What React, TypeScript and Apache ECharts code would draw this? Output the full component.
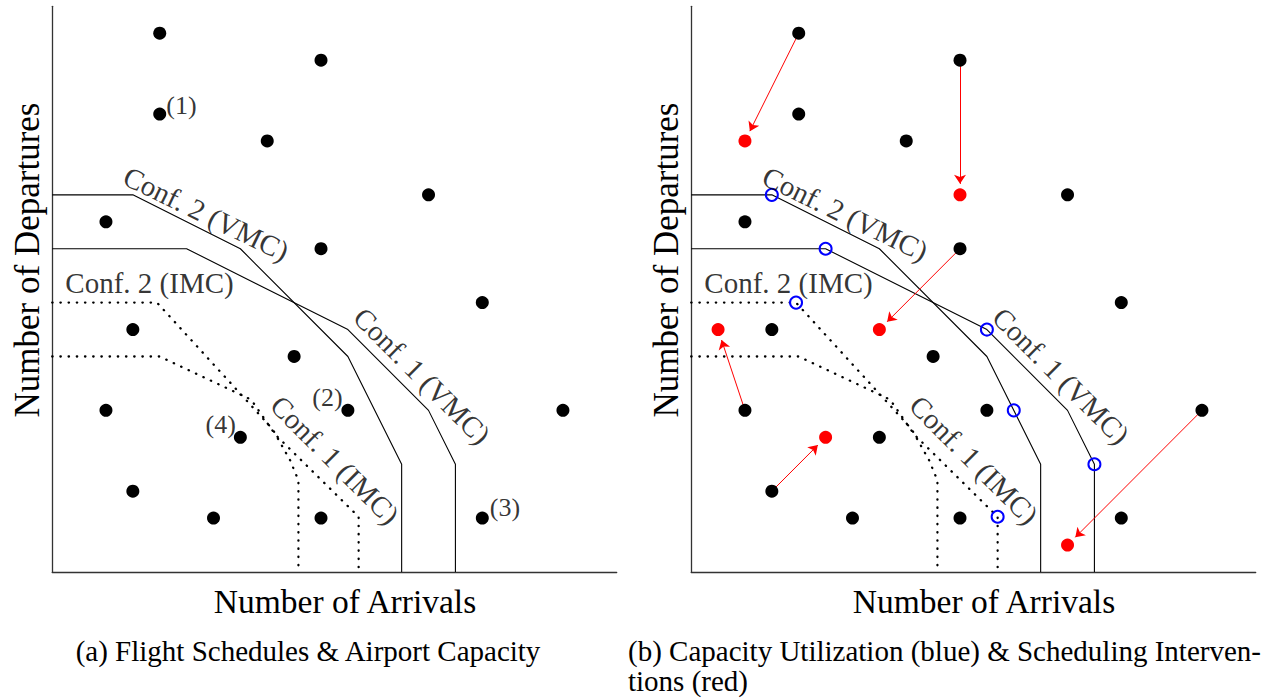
import React, { useEffect, useRef } from "react";
import * as echarts from "echarts";

// Flight schedule points: [arrivals, departures]
const flights: number[][] = [
  [4, 20], [10, 19], [4, 17], [8, 16], [14, 14], [2, 13], [10, 12], [16, 10], [3, 9],
  [9, 8], [2, 6], [11, 6], [19, 6], [7, 5], [3, 3], [6, 2], [10, 2], [16, 2],
];

// Capacity envelopes
const conf2VMC: number[][] = [[0, 14], [3, 14], [7, 12], [11, 8], [13, 4], [13, 0]];
const conf1VMC: number[][] = [[0, 12], [5, 12], [11, 9], [14, 6], [15, 4], [15, 0]];
const conf2IMC: number[][] = [[0, 10], [3.9, 10], [7.2, 6.4], [8.2, 5.3], [8.85, 4.15], [9.16, 3.4], [9.16, 0]];
const conf1IMC: number[][] = [[0, 8], [4, 8], [7.4, 6.4], [8.3, 5.1], [11.4, 2.05], [11.4, 0]];

// Scheduling interventions: original slot -> moved slot
const moveFrom: number[][] = [[4, 20], [10, 19], [10, 12], [2, 6], [3, 3], [19, 6]];
const moveTo: number[][] = [[2, 16], [10, 14], [7, 9], [1, 9], [5, 5], [14, 1]];

// Capacity utilization points on the envelopes
const utilized: number[][] = [[3, 14], [5, 12], [3.9, 10], [11, 9], [12, 6], [15, 4], [11.4, 2.05]];

// Envelope names and where they sit
const curveNames = ["Conf. 2 (VMC)", "Conf. 1 (VMC)", "Conf. 2 (IMC)", "Conf. 1 (IMC)"];
const curveNameAnchors: number[][] = [[5.73, 13.3], [13.76, 7.28], [3.62, 10.73], [10.52, 4.16]];
const curveNameAngles = [-26, -45, 0, -45];

// Numbered schedule tags (left panel)
const tagTexts = ["(1)", "(2)", "(3)", "(4)"];
const tagAnchors: number[][] = [[4.81, 17.33], [10.24, 6.48], [16.84, 2.38], [6.27, 5.46]];

const xTitle = "Number of Arrivals";
const yTitle = "Number of Departures";
const captionA = "(a) Flight Schedules & Airport Capacity";
const captionB1 = "(b) Capacity Utilization (blue) & Scheduling Interven-";
const captionB2 = "tions (red)";

const FONT = "Liberation Serif";
const PX_PER_UNIT = 26.9;
const DOT = 13;
const ARROW = 9;

function App() {
  const ref = useRef<HTMLDivElement>(null);

  useEffect(() => {
    if (!ref.current) return;
    const chart = echarts.init(ref.current, undefined, { renderer: "svg" });

    const grids = [
      { left: 52.2, top: 6.3, width: 564.5, height: 565.7 },
      { left: 691.2, top: 6.3, width: 564.5, height: 565.7 },
    ];

    const axisBase = {
      type: "value" as const,
      min: 0,
      max: 21,
      axisLine: { show: true, onZero: false, lineStyle: { color: "#333", width: 1.3 } },
      axisTick: { show: false },
      axisLabel: { show: false },
      splitLine: { show: false },
    };

    const solid = { color: "#000", width: 1.1 };
    const dotted = { color: "#000", width: 2.3, type: [0.4, 7.8] as number[], cap: "round" as const };

    const series: any[] = [];

    [0, 1].forEach((g) => {
      const curves: [number[][], any][] = [
        [conf2VMC, solid],
        [conf1VMC, solid],
        [conf2IMC, dotted],
        [conf1IMC, dotted],
      ];
      curves.forEach(([pts, ls]) => {
        series.push({
          type: "line",
          xAxisIndex: g,
          yAxisIndex: g,
          data: pts,
          showSymbol: false,
          symbol: "none",
          lineStyle: ls,
          z: 1,
          silent: true,
        });
      });

      series.push({
        type: "scatter",
        xAxisIndex: g,
        yAxisIndex: g,
        data: flights,
        symbol: "circle",
        symbolSize: DOT,
        itemStyle: { color: "#000", opacity: 1 },
        z: 3,
        silent: true,
      });

      series.push({
        type: "scatter",
        xAxisIndex: g,
        yAxisIndex: g,
        symbol: "circle",
        symbolSize: 1,
        itemStyle: { color: "transparent" },
        data: curveNames.map((name, i) => ({
          value: curveNameAnchors[i],
          label: {
            show: true,
            position: "inside",
            formatter: name,
            rotate: curveNameAngles[i],
            fontFamily: FONT,
            fontSize: 29,
            color: "#000",
          },
        })),
        z: 6,
        silent: true,
      });
    });

    // Numbered tags on the left panel
    series.push({
      type: "scatter",
      xAxisIndex: 0,
      yAxisIndex: 0,
      symbol: "circle",
      symbolSize: 1,
      itemStyle: { color: "transparent" },
      data: tagTexts.map((t, i) => ({
        value: tagAnchors[i],
        label: { show: true, position: "inside", formatter: t, fontFamily: FONT, fontSize: 26, color: "#000" },
      })),
      z: 6,
      silent: true,
    });

    // Intervention arrows: stop so that the arrow tip meets the moved dot's rim
    const arrowData = moveFrom.map((f, i) => {
      const t = moveTo[i];
      const dx = t[0] - f[0];
      const dy = t[1] - f[1];
      const len = Math.hypot(dx, dy);
      const back = (DOT / 2 + ARROW / 2) / PX_PER_UNIT;
      return {
        coords: [f, [t[0] - (dx / len) * back, t[1] - (dy / len) * back]],
      };
    });
    series.push({
      type: "lines",
      coordinateSystem: "cartesian2d",
      xAxisIndex: 1,
      yAxisIndex: 1,
      data: arrowData,
      symbol: ["none", "arrow"],
      symbolSize: [0, ARROW],
      lineStyle: { color: "#ff0000", width: 1, opacity: 1, curveness: 0 },
      z: 2,
      silent: true,
    });

    series.push({
      type: "scatter",
      xAxisIndex: 1,
      yAxisIndex: 1,
      data: moveTo,
      symbol: "circle",
      symbolSize: DOT,
      itemStyle: { color: "#ff0000", opacity: 1 },
      z: 4,
      silent: true,
    });

    series.push({
      type: "scatter",
      xAxisIndex: 1,
      yAxisIndex: 1,
      data: utilized,
      symbol: "circle",
      symbolSize: 12,
      itemStyle: { color: "transparent", borderColor: "#0000ff", borderWidth: 2, opacity: 1 },
      z: 5,
      silent: true,
    });

    const text = (t: string, x: number, y: number, size: number, align: string, rotation = 0) => ({
      type: "text",
      x,
      y,
      rotation,
      silent: true,
      style: {
        text: t,
        fill: "#000",
        fontFamily: FONT,
        fontSize: size,
        align,
        verticalAlign: "middle",
      },
    });

    chart.setOption({
      animation: false,
      backgroundColor: "#fff",
      grid: grids,
      xAxis: [{ ...axisBase, gridIndex: 0 }, { ...axisBase, gridIndex: 1 }],
      yAxis: [{ ...axisBase, gridIndex: 0 }, { ...axisBase, gridIndex: 1 }],
      series,
      graphic: [
        text(yTitle, 27, 260, 35, "center", Math.PI / 2),
        text(yTitle, 666, 260, 35, "center", Math.PI / 2),
        text(xTitle, 345, 601, 33.5, "center"),
        text(xTitle, 984, 601, 33.5, "center"),
        text(captionA, 308, 651, 29, "center"),
        text(captionB1, 628, 651, 29, "left"),
        text(captionB2, 628, 681, 29, "left"),
      ],
    });

    return () => chart.dispose();
  }, []);

  return (
    <div
      ref={ref}
      style={{ position: "fixed", left: 0, top: 0, width: 1268, height: 698, background: "#fff" }}
    />
  );
}

export default App;
